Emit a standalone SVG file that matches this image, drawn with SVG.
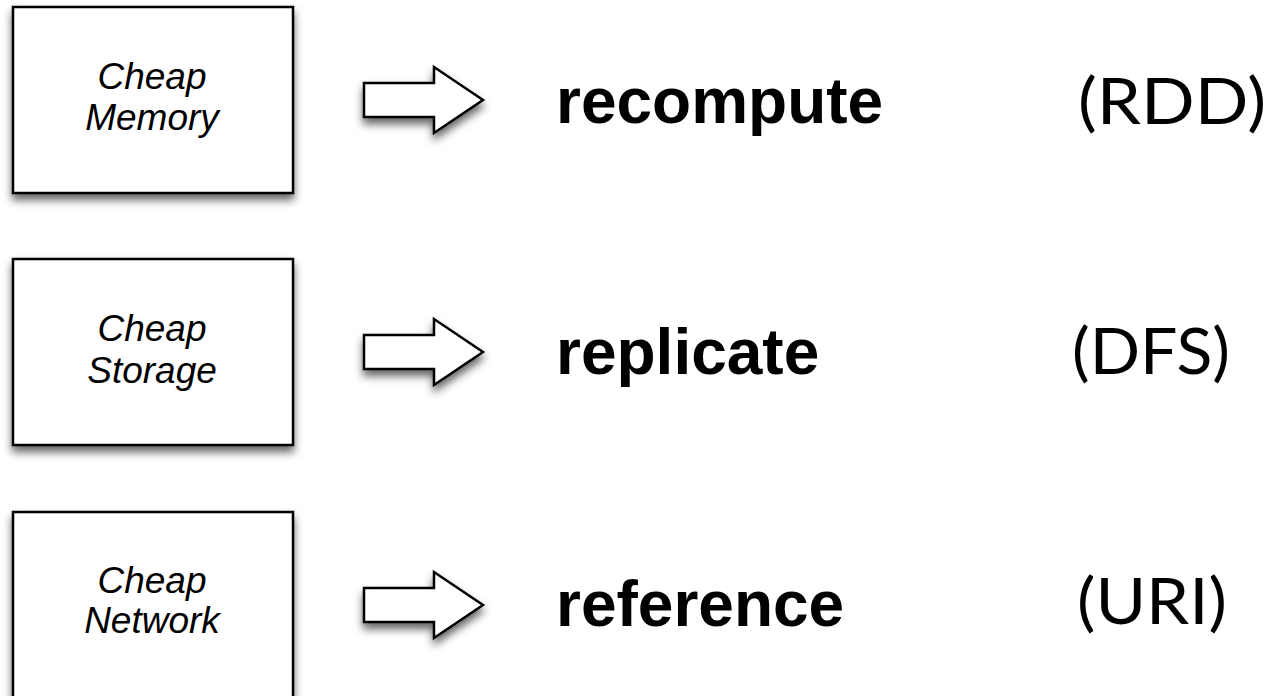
<svg xmlns="http://www.w3.org/2000/svg" width="1272" height="696" viewBox="0 0 1272 696">
  <defs>
    <filter id="shadow" x="-20%" y="-20%" width="140%" height="150%">
      <feDropShadow dx="0" dy="6" stdDeviation="4.5" flood-color="#000" flood-opacity="0.6"/>
    </filter>
    <style>
      .box { fill: #fff; stroke: #000; stroke-width: 2.5; filter: url(#shadow); }
      .arrow { fill: #fff; stroke: #000; stroke-width: 2.5; stroke-linejoin: miter; filter: url(#shadow); }
      .lbl { font-family: "Liberation Sans", Arial, sans-serif; font-style: italic; font-size: 37px; fill: #000; text-anchor: middle; }
      .act { font-family: "Liberation Sans", Arial, sans-serif; font-weight: bold; font-size: 64px; fill: #000; }
      .abbr { font-family: Lato, "Noto Sans", sans-serif; font-size: 64px; fill: #000; }
    </style>
  </defs>
  <rect width="1272" height="696" fill="#fff"/>

  <g id="node-memory">
    <rect class="box" x="13" y="7" width="280" height="186"/>
    <text class="lbl" x="152" y="89">Cheap</text>
    <text class="lbl" x="152" y="130">Memory</text>
  </g>
  <g id="node-storage">
    <rect class="box" x="13" y="259" width="280" height="186"/>
    <text class="lbl" x="152" y="341">Cheap</text>
    <text class="lbl" x="152" y="383">Storage</text>
  </g>
  <g id="node-network">
    <rect class="box" x="13" y="512" width="280" height="200"/>
    <text class="lbl" x="152" y="593">Cheap</text>
    <text class="lbl" x="152" y="633">Network</text>
  </g>

  <g id="connectors">
    <path class="arrow" d="M364,83 H434 V67 L483,100 L434,133 V117 H364 Z"/>
    <path class="arrow" d="M364,335 H434 V319 L483,352 L434,385 V369 H364 Z"/>
    <path class="arrow" d="M364,588 H434 V572 L483,605 L434,638 V622 H364 Z"/>
  </g>

  <g id="node-recompute">
    <text class="act" x="556" y="123">recompute</text>
  </g>
  <g id="node-replicate">
    <text class="act" x="556" y="374">replicate</text>
  </g>
  <g id="node-reference">
    <text class="act" x="556" y="626">reference</text>
  </g>

  <g id="node-rdd">
    <text class="abbr" x="1078" y="124" textLength="188" lengthAdjust="spacingAndGlyphs">(RDD)</text>
  </g>
  <g id="node-dfs">
    <text class="abbr" x="1072" y="374" textLength="158" lengthAdjust="spacingAndGlyphs">(DFS)</text>
  </g>
  <g id="node-uri">
    <text class="abbr" x="1077" y="624" textLength="150" lengthAdjust="spacingAndGlyphs">(URI)</text>
  </g>
</svg>
